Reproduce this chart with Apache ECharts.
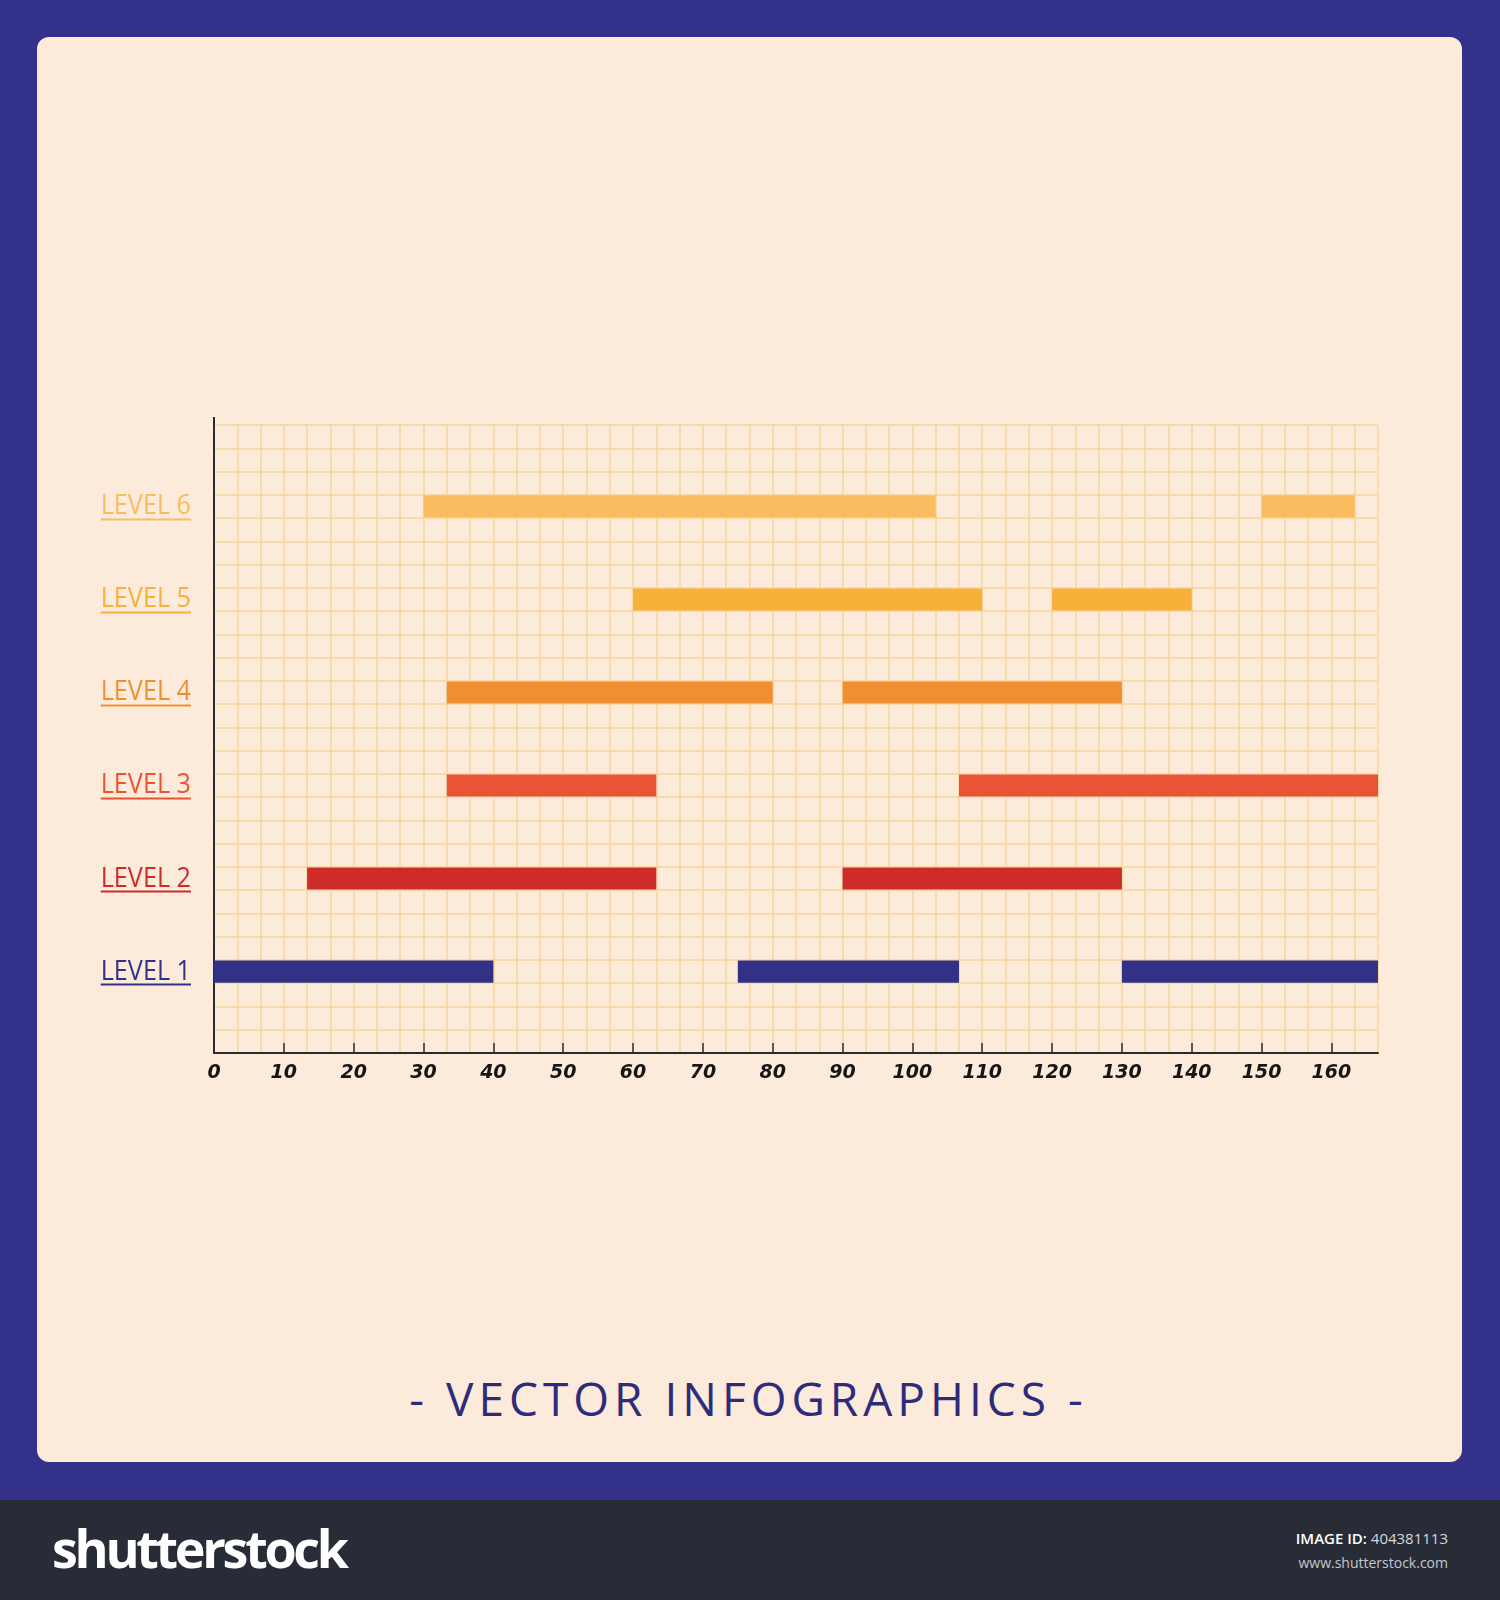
<!DOCTYPE html>
<html>
<head>
<meta charset="utf-8">
<script src="https://cdn.jsdelivr.net/npm/echarts@6/dist/echarts.min.js"></script>
<style>
  html, body { margin: 0; padding: 0; }
  body { width: 1500px; height: 1600px; position: relative; background: #33318a; overflow: hidden; }
  #panel { position: absolute; left: 37px; top: 37px; width: 1425px; height: 1425px; background: #fceadb; border-radius: 12px; }
  #footer { position: absolute; left: 0; top: 1500px; width: 1500px; height: 100px; background: #282c37; }
  #chart { position: absolute; left: 0; top: 0; width: 1500px; height: 1600px; }
  #title { position: absolute; left: 0; top: 1370px; width: 1500px; text-align: center; font-family: "Open Sans", sans-serif; font-size: 46px; line-height: 56px; letter-spacing: 5px; padding-left: 5px; box-sizing: border-box; color: #2e2b7c; transform: translateX(-4px); }
  #logo { position: absolute; left: 52px; top: 1513px; font-family: "Open Sans", sans-serif; font-weight: 700; font-size: 52px; line-height: 70px; letter-spacing: -3.3px; color: #ffffff; }
  #imgid { position: absolute; right: 52px; top: 1527px; font-family: "Open Sans", sans-serif; font-size: 15px; line-height: 22px; color: #d6d8dc; text-align: right; }
  #imgid b { color: #ffffff; font-weight: 600; }
  #site { position: absolute; right: 52px; top: 1552px; font-family: "Open Sans", sans-serif; font-size: 14px; line-height: 22px; color: #c4c7cc; }
</style>
</head>
<body>
<div id="panel"></div>
<div id="footer"></div>
<div id="title">- VECTOR INFOGRAPHICS -</div>
<div id="logo">shutterstock</div>
<div id="imgid"><b>IMAGE ID:</b> 404381113</div>
<div id="site">www.shutterstock.com</div>
<div id="chart"></div>
<script>
// ---- data ----
const levelNames = ['LEVEL 1', 'LEVEL 2', 'LEVEL 3', 'LEVEL 4', 'LEVEL 5', 'LEVEL 6'];
const level1 = [[0, 40], [75, 106.67], [130, 166.67]];
const level2 = [[13.33, 63.33], [90, 130]];
const level3 = [[33.33, 63.33], [106.67, 166.67]];
const level4 = [[33.33, 80], [90, 130]];
const level5 = [[60, 110], [120, 140]];
const level6 = [[30, 103.33], [150, 163.33]];
const tickLabels = [0, 10, 20, 30, 40, 50, 60, 70, 80, 90, 100, 110, 120, 130, 140, 150, 160];
const xMax = 500 / 3;

// ---- styles ----
const levelColors = ['#313186', '#cd2c2a', '#ea5434', '#f08f31', '#f7b13b', '#f9bc5e'];
const gridColor = '#f7d698';
const labelFont = '28px "Open Sans", sans-serif';
const labelScaleX = 0.9;

const levels = [level1, level2, level3, level4, level5, level6];
const rowOf = i => 3.5 + 4 * i;

const barData = [];
levels.forEach((segs, i) => segs.forEach(s => barData.push([s[0], s[1], rowOf(i), i])));
const labelData = levelNames.map((n, i) => [0, rowOf(i), i]);

const mctx = document.createElement('canvas').getContext('2d');
mctx.font = labelFont;

const chart = echarts.init(document.getElementById('chart'), null, { renderer: 'canvas' });
chart.setOption({
  backgroundColor: 'transparent',
  animation: false,
  grid: { left: 214, top: 425, width: 1164, height: 628 },
  xAxis: [
    {
      type: 'value', min: 0, max: xMax, interval: 10, position: 'bottom',
      axisLine: { show: true, lineStyle: { color: '#2b2b2b', width: 2 } },
      axisTick: { show: true, inside: true, length: 10, lineStyle: { color: '#2b2b2b', width: 1.5 } },
      axisLabel: {
        show: true, margin: 11, color: '#161616', fontFamily: 'DejaVu Sans', fontWeight: 'bold', fontStyle: 'italic', fontSize: 19,
        showMaxLabel: false,
        formatter: v => tickLabels.some(t => Math.abs(t - v) < 1e-6) ? String(Math.round(v)) : ''
      },
      splitLine: { show: false }
    },
    {
      type: 'value', min: 0, max: 50, interval: 1, position: 'bottom',
      axisLine: { show: false }, axisTick: { show: false }, axisLabel: { show: false },
      splitLine: { show: true, lineStyle: { color: gridColor, width: 1.5 } }
    }
  ],
  yAxis: {
    type: 'value', min: 0, max: 27, interval: 1,
    axisLine: { show: true, lineStyle: { color: '#2b2b2b', width: 2 }, symbol: ['none', 'rect'], symbolSize: [2, 16] },
    axisTick: { show: false }, axisLabel: { show: false },
    splitLine: { show: true, lineStyle: { color: gridColor, width: 1.5 } }
  },
  series: [
    {
      type: 'custom', name: 'bars', xAxisIndex: 0, yAxisIndex: 0,
      data: barData,
      renderItem: (params, api) => {
        const a = api.coord([api.value(0), api.value(2)]);
        const b = api.coord([api.value(1), api.value(2)]);
        const h = api.size([0, 1])[1] * 0.95;
        return {
          type: 'rect',
          shape: { x: a[0], y: a[1] - h / 2, width: b[0] - a[0], height: h },
          style: { fill: levelColors[api.value(3)] }
        };
      },
      z: 3
    },
    {
      type: 'custom', name: 'labels', xAxisIndex: 0, yAxisIndex: 0, clip: false,
      data: labelData,
      renderItem: (params, api) => {
        const i = api.value(2);
        const p = api.coord([api.value(0), api.value(1)]);
        const w = mctx.measureText(levelNames[i]).width;
        return {
          type: 'group',
          x: p[0] - 23, y: p[1], scaleX: labelScaleX,
          children: [
            { type: 'text', x: 0, y: 0, style: { text: levelNames[i], fill: levelColors[i], font: labelFont, align: 'right', verticalAlign: 'middle' } },
            { type: 'line', shape: { x1: -w, y1: 13, x2: 0, y2: 13 }, style: { stroke: levelColors[i], lineWidth: 2 } }
          ]
        };
      },
      z: 4
    }
  ]
});
</script>
</body>
</html>
